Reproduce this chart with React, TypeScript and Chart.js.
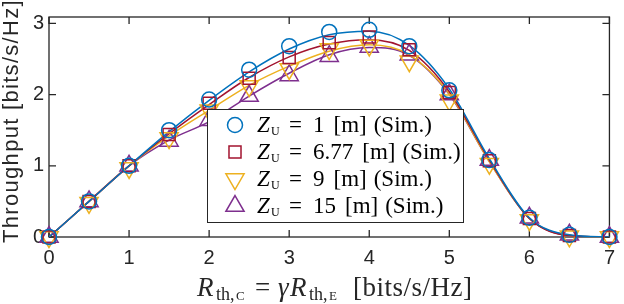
import React, { useEffect, useRef } from 'react';
import { Chart, registerables } from 'chart.js';

Chart.register(...registerables);

// ---- data ----
const xValues = [0, 0.5, 1, 1.5, 2, 2.5, 3, 3.5, 4, 4.5, 5, 5.5, 6, 6.5, 7];

// simulation markers
const simZ1 = [0, 0.5, 1.0, 1.5, 1.93, 2.35, 2.68, 2.88, 2.91, 2.68, 2.06, 1.08, 0.27, 0.03, 0.0];
const simZ677 = [0, 0.5, 1.0, 1.44, 1.88, 2.23, 2.52, 2.73, 2.81, 2.63, 2.03, 1.07, 0.26, 0.02, 0.0];
const simZ9 = [0, 0.48, 0.97, 1.39, 1.78, 2.12, 2.36, 2.64, 2.69, 2.47, 1.92, 1.03, 0.24, 0.01, 0.0];
const simZ15 = [0, 0.5, 1.0, 1.35, 1.64, 1.98, 2.27, 2.54, 2.67, 2.56, 2.0, 1.08, 0.27, 0.03, 0.0];

// analytical curves
const anaZ1 = [0, 0.5, 1.0, 1.48, 1.92, 2.32, 2.64, 2.84, 2.89, 2.69, 2.08, 1.1, 0.27, 0.03, 0.0];
const anaZ677 = [0, 0.5, 1.0, 1.45, 1.86, 2.24, 2.53, 2.71, 2.77, 2.62, 2.04, 1.08, 0.26, 0.02, 0.0];
const anaZ9 = [0, 0.5, 1.0, 1.42, 1.78, 2.13, 2.4, 2.61, 2.7, 2.56, 2.01, 1.06, 0.26, 0.02, 0.0];
const anaZ15 = [0, 0.5, 1.0, 1.36, 1.62, 1.98, 2.3, 2.56, 2.66, 2.55, 2.0, 1.06, 0.26, 0.02, 0.0];

const xTicks = [0, 1, 2, 3, 4, 5, 6, 7];
const yTicks = [0, 1, 2, 3];
const legendValues = ['1', '6.77', '9', '15'];

const seriesColors = ['#0072BD', '#A2142F', '#EDB120', '#7E2F8E'];
const seriesStyles = ['circle', 'rect', 'triangle', 'triangle'];
const seriesRotation = [0, 0, 180, 0];
const seriesRadius = [7.5, 8.5, 10.5, 10.5];

const AXIS = '#262626';
const SANS = '"Liberation Sans", Arial, sans-serif';
const SERIF = '"Liberation Serif", "Times New Roman", serif';

const toPts = (ys: number[]) => xValues.map((x, i) => ({ x, y: ys[i] }));

function drawMarker(ctx: CanvasRenderingContext2D, style: string, rot: number, r: number, x: number, y: number) {
  ctx.beginPath();
  if (style === 'circle') {
    ctx.arc(x, y, r, 0, Math.PI * 2);
  } else if (style === 'rect') {
    const s = Math.SQRT1_2 * r;
    ctx.rect(x - s, y - s, 2 * s, 2 * s);
  } else {
    let rad = (rot * Math.PI) / 180;
    ctx.moveTo(x + Math.sin(rad) * r, y - Math.cos(rad) * r);
    rad += (2 * Math.PI) / 3;
    ctx.lineTo(x + Math.sin(rad) * r, y - Math.cos(rad) * r);
    rad += (2 * Math.PI) / 3;
    ctx.lineTo(x + Math.sin(rad) * r, y - Math.cos(rad) * r);
    ctx.closePath();
  }
  ctx.stroke();
}

type Piece = { t: string; f: string; x?: number; dy: number; gap?: number; ls?: string };

function drawPieces(ctx: CanvasRenderingContext2D, pieces: Piece[], startX: number, baseY: number) {
  let cx = startX;
  for (const p of pieces) {
    if (p.x !== undefined) cx = p.x;
    cx += p.gap || 0;
    ctx.font = p.f;
    (ctx as any).letterSpacing = p.ls || '0px';
    ctx.fillText(p.t, cx, baseY + p.dy);
    cx += ctx.measureText(p.t).width;
  }
  (ctx as any).letterSpacing = '0px';
}

const decorPlugin = {
  id: 'decor',
  beforeDatasetsDraw(chart: any) {
    const { ctx, chartArea: a, scales } = chart;
    ctx.save();
    ctx.strokeStyle = AXIS;
    ctx.lineWidth = 1.3;
    ctx.strokeRect(a.left, a.top, a.right - a.left, a.bottom - a.top);
    const tl = 7;
    ctx.beginPath();
    xTicks.forEach((v) => {
      const px = scales.x.getPixelForValue(v);
      ctx.moveTo(px, a.bottom);
      ctx.lineTo(px, a.bottom - tl);
      ctx.moveTo(px, a.top);
      ctx.lineTo(px, a.top + tl);
    });
    yTicks.forEach((v) => {
      const py = scales.y.getPixelForValue(v);
      ctx.moveTo(a.left, py);
      ctx.lineTo(a.left + tl, py);
      ctx.moveTo(a.right, py);
      ctx.lineTo(a.right - tl, py);
    });
    ctx.stroke();
    ctx.restore();
  },
  afterDraw(chart: any) {
    const { ctx } = chart;
    ctx.save();
    ctx.fillStyle = AXIS;

    // Y axis title
    ctx.save();
    ctx.translate(18, 121);
    ctx.rotate(-Math.PI / 2);
    ctx.font = `22px ${SANS}`;
    (ctx as any).letterSpacing = '1.3px';
    ctx.textAlign = 'center';
    ctx.textBaseline = 'alphabetic';
    ctx.fillText('Throughput [bits/s/Hz]', 0, 0);
    ctx.restore();

    // X axis title (math-like)
    ctx.textAlign = 'left';
    ctx.textBaseline = 'alphabetic';
    const main = `italic 27px ${SERIF}`;
    const up = `27px ${SERIF}`;
    const sub = `18px ${SERIF}`;
    const subsub = `13px ${SERIF}`;
    drawPieces(
      ctx,
      [
        { t: 'R', f: main, x: 197, dy: 0 },
        { t: 'th,', f: sub, x: 216, dy: 4 },
        { t: 'C', f: subsub, x: 236, dy: 4 },
        { t: '=', f: up, x: 255, dy: 0 },
        { t: 'γ', f: main, x: 278, dy: 0 },
        { t: 'R', f: main, x: 290, dy: 0 },
        { t: 'th,', f: sub, x: 309, dy: 4 },
        { t: 'E', f: subsub, x: 329, dy: 4 },
        { t: '[bits/s/Hz]', f: up, x: 353, dy: 0, ls: '0.5px' },
      ],
      197,
      296
    );

    // Legend
    const lx = 207, ly = 109, lw = 256, lh = 113;
    ctx.fillStyle = '#ffffff';
    ctx.fillRect(lx, ly, lw, lh);
    ctx.strokeStyle = AXIS;
    ctx.lineWidth = 1;
    ctx.strokeRect(lx + 0.5, ly + 0.5, lw, lh);
    const rows = [125, 152, 179, 206];
    legendValues.forEach((val, i) => {
      const cy = rows[i];
      ctx.strokeStyle = seriesColors[i];
      ctx.lineWidth = 1.5;
      drawMarker(ctx, seriesStyles[i], seriesRotation[i], seriesRadius[i], 235, cy);
      ctx.fillStyle = '#000000';
      drawPieces(
        ctx,
        [
          { t: 'Z', f: `italic 23px ${SERIF}`, x: 257, dy: 0 },
          { t: 'U', f: `12px ${SERIF}`, x: 271, dy: 3 },
          { t: '=', f: `23px ${SERIF}`, x: 289, dy: 0 },
          { t: val, f: `23px ${SERIF}`, x: 313, dy: 0 },
          { t: '[m]', f: `23px ${SERIF}`, dy: 0, gap: 9 },
          { t: '(Sim.)', f: `23px ${SERIF}`, dy: 0, gap: 7 },
        ],
        257,
        cy + 7
      );
    });
    ctx.restore();
  },
};

export default function App() {
  const ref = useRef<HTMLCanvasElement | null>(null);

  useEffect(() => {
    document.body.style.margin = '0';
    if (!ref.current) return;
    const sims = [simZ1, simZ677, simZ9, simZ15];
    const anas = [anaZ1, anaZ677, anaZ9, anaZ15];
    const datasets: any[] = [];
    sims.forEach((s, i) => {
      datasets.push({
        label: `Z_U = ${legendValues[i]} [m] (Sim.)`,
        data: toPts(s),
        showLine: false,
        borderColor: seriesColors[i],
        backgroundColor: 'rgba(0,0,0,0)',
        pointStyle: seriesStyles[i],
        pointRotation: seriesRotation[i],
        pointRadius: seriesRadius[i],
        pointBorderWidth: 1.5,
        pointHoverRadius: seriesRadius[i],
        clip: false,
      });
    });
    anas.forEach((s, i) => {
      datasets.push({
        label: `Z_U = ${legendValues[i]} [m] (Ana.)`,
        data: toPts(s),
        borderColor: seriesColors[i],
        backgroundColor: seriesColors[i],
        borderWidth: 1.5,
        pointRadius: 0,
        cubicInterpolationMode: 'monotone',
        fill: false,
      });
    });

    const chart = new Chart(ref.current, {
      type: 'line',
      data: { datasets },
      plugins: [decorPlugin],
      options: {
        animation: false,
        responsive: false,
        devicePixelRatio: 1,
        layout: { padding: { top: 3, right: 11, left: 0, bottom: 0 } },
        plugins: { legend: { display: false }, tooltip: { enabled: false } },
        events: [],
        scales: {
          x: {
            type: 'linear',
            min: 0,
            max: 7,
            grid: { display: false, drawTicks: false },
            border: { display: false },
            afterBuildTicks: (scale: any) => {
              scale.ticks = xTicks.map((v) => ({ value: v }));
            },
            afterFit: (scale: any) => {
              scale.height = 67;
            },
            ticks: {
              color: AXIS,
              font: { family: SANS, size: 20 },
              padding: 9,
              maxRotation: 0,
              autoSkip: false,
            },
          },
          y: {
            type: 'linear',
            min: 0,
            max: 3.09,
            grid: { display: false, drawTicks: false },
            border: { display: false },
            afterBuildTicks: (scale: any) => {
              scale.ticks = yTicks.map((v) => ({ value: v }));
            },
            afterFit: (scale: any) => {
              scale.width = 49;
            },
            ticks: {
              color: AXIS,
              font: { family: SANS, size: 20 },
              padding: 5,
              autoSkip: false,
            },
          },
        },
      },
    });
    return () => chart.destroy();
  }, []);

  return (
    <div style={{ position: 'absolute', left: 0, top: 0, width: 624, height: 304, background: '#fff' }}>
      <canvas ref={ref} width={624} height={304} style={{ width: 624, height: 304 }} />
    </div>
  );
}
